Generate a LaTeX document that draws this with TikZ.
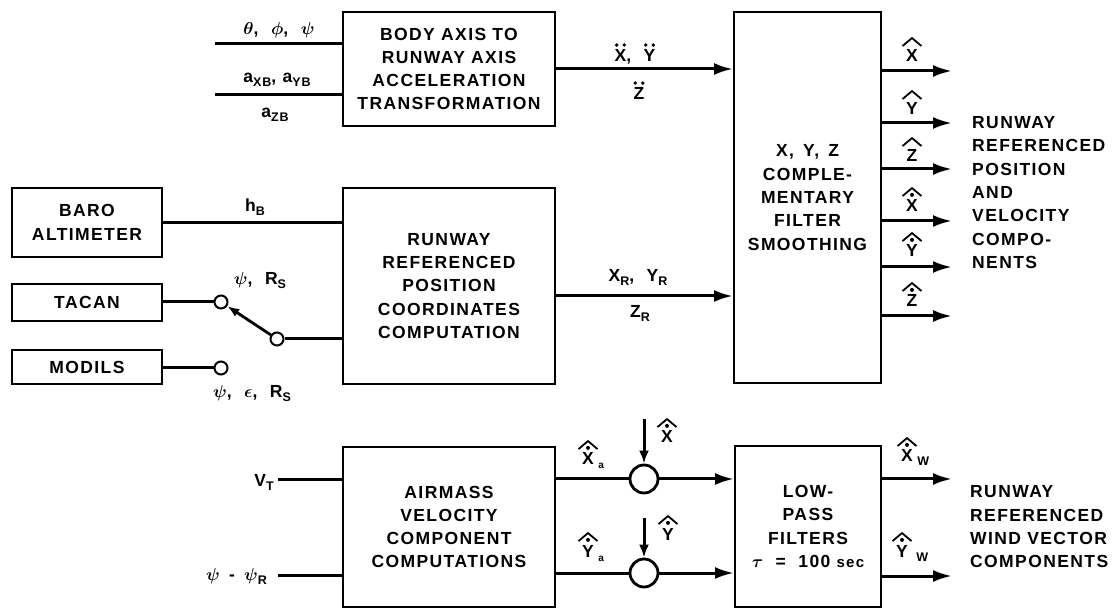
\documentclass[tikz,border=0pt]{standalone}
\usepackage{fontspec}
\setmainfont{Liberation Sans}[LetterSpace=8]
\usetikzlibrary{arrows.meta}
\newcommand{\fs}{\fontsize{17.5}{23.3}\selectfont}
\newcommand{\sub}[1]{\raisebox{-4pt}{\fontsize{12.5}{12.5}\selectfont #1}}
\newcommand{\ovr}[2]{\leavevmode\vbox{\offinterlineskip\halign{\hfil##\hfil\cr#1\cr\noalign{\kern3pt}#2\cr}}}
\newcommand{\dd}{\tikz[x=1pt,y=1pt]{\fill (-3.8,0) circle (1.9); \fill (3.8,0) circle (1.9);}}
\newcommand{\chv}{\tikz[x=1pt,y=1pt,line width=1.8pt]{\draw (-9.5,0)--(0,8)--(9.5,0);}}
\newcommand{\chvd}{\tikz[x=1pt,y=1pt,line width=1.8pt]{\draw (-9.5,0)--(0,8)--(9.5,0); \fill (0,1.2) circle (2);}}
\newcommand{\gk}[1]{{\fontsize{19}{19}\selectfont\boldmath$#1$}}
\tikzset{
  box/.style={draw, line width=2pt, align=center, font=\fs\bfseries, inner sep=0pt},
  lbl/.style={font=\fs\bfseries, inner sep=0pt, anchor=base},
  ln/.style={line width=3pt},
  arr/.style={ln, -{Latex[length=19pt,width=12pt]}},
  sarr/.style={ln, -{Latex[length=13pt,width=10pt]}},
  contact/.style={circle, draw, line width=2pt, minimum size=13pt, inner sep=0pt, fill=white},
  sumc/.style={circle, draw, line width=2.8pt, minimum size=28pt, inner sep=0pt},
}
\begin{document}
\begin{tikzpicture}[x=1pt,y=-1pt]
\path[fill=white] (0,0) rectangle (1117,609);
\useasboundingbox (0,0) rectangle (1117,609);

% boxes
\node[box, minimum width=212pt, minimum height=114pt] (body) at (449,69) {BODY AXIS TO\\RUNWAY AXIS\\ACCELERATION\\TRANSFORMATION};
\node[box, minimum width=147pt, minimum height=371pt] (filt) at (807.5,197.5) {X, \,Y, \,Z\\COMPLE-\\MENTARY\\FILTER\\SMOOTHING};
\node[box, minimum width=150pt, minimum height=69pt] (baro) at (87,222.5) {BARO\\ALTIMETER};
\node[box, minimum width=150pt, minimum height=37pt] (tacan) at (87,302.5) {TACAN};
\node[box, minimum width=150pt, minimum height=34pt] (modils) at (87,367) {MODILS};
\node[box, minimum width=212pt, minimum height=196pt] (rrpc) at (449,286) {RUNWAY\\REFERENCED\\POSITION\\COORDINATES\\COMPUTATION};
\node[box, minimum width=212pt, minimum height=160pt] (air) at (449,527) {AIRMASS\\VELOCITY\\COMPONENT\\COMPUTATIONS};
\node[box, minimum width=146pt, minimum height=161pt] (lpf) at (808,526.5) {LOW-\\PASS\\FILTERS\\\gk{\tau} \ = \ 100 {\fontsize{15}{15}\selectfont sec}};

% top inputs
\coordinate (i1) at (215,44);
\coordinate (i2) at (215,95);
\draw[ln] (i1) -- (i1 -| body.west);
\draw[ln] (i2) -- (i2 -| body.west);
\node[lbl] (l1) at (279,35) {\gk{\theta}, \ \gk{\phi}, \ \gk{\psi}};
\node[lbl] (l2) at (277,83) {a\sub{XB}, a\sub{YB}};
\node[lbl] (l3) at (275,118) {a\sub{ZB}};

\draw[arr] (body.east) -- (body.east -| filt.west);
\node[lbl] (lxy) at (635,62) {\ovr{\dd}{X}, \ \ovr{\dd}{Y}};
\node[lbl] (lz) at (639,100) {\ovr{\dd}{Z}};

% switch section
\node[contact] (tc) at (221,302) {};
\node[contact] (mc) at (221,368) {};
\node[contact] (sw) at (277,339) {};
\draw[ln] (baro.east) -- (baro.east -| rrpc.west);
\draw[ln] (tc -| tacan.east) -- (tc);
\draw[ln] (mc -| modils.east) -- (mc);
\draw[ln] (sw) -- (sw -| rrpc.west);
\draw[line width=2.8pt, -{Latex[length=12pt,width=9pt]}] (sw) -- (tc);
\node[lbl] (lh) at (255,212) {h\sub{B}};
\node[lbl] (lps) at (260,285) {\gk{\psi}, \ R\sub{S}};
\node[lbl] (lpes) at (252,398) {\gk{\psi}, \ \gk{\epsilon}, \ R\sub{S}};

\draw[arr] ([yshift=-10pt]rrpc.east) -- ([yshift=-10pt]rrpc.east -| filt.west);
\node[lbl] (lxr) at (638,282) {X\sub{R}, \ Y\sub{R}};
\node[lbl] (lzr) at (640,318) {Z\sub{R}};

% filter outputs
\foreach \y [count=\i] in {71,123,169,221,267,316} {
  \coordinate (o\i) at (952,\y);
  \draw[arr] (o\i -| filt.east) -- (o\i);
}
\node[lbl] (h1) at (912,62) {\ovr{\chv}{X}};
\node[lbl] (h2) at (912,115) {\ovr{\chv}{Y}};
\node[lbl] (h3) at (912,162) {\ovr{\chv}{Z}};
\node[lbl] (h4) at (912,212) {\ovr{\chvd}{X}};
\node[lbl] (h5) at (912,257) {\ovr{\chvd}{Y}};
\node[lbl] (h6) at (912,307) {\ovr{\chvd}{Z}};
\node[lbl, anchor=west, align=left] (t1) at (972,192.5) {RUNWAY\\REFERENCED\\POSITION\\AND\\VELOCITY\\COMPO-\\NENTS};

% bottom section
\coordinate (vt) at (278,480);
\coordinate (pr) at (278,575);
\draw[ln] (vt) -- (vt -| air.west);
\draw[ln] (pr) -- (pr -| air.west);
\node[lbl, anchor=base east] (lvt) at (274,486) {V\sub{T}};
\node[lbl, anchor=base east] (lpr) at (267,580) {\gk{\psi} \,-\, \gk{\psi}\sub{R}};

\node[sumc] (sx) at (644,479) {};
\node[sumc] (sy) at (644,573) {};
\draw[ln] (sx -| air.east) -- (sx);
\draw[ln] (sy -| air.east) -- (sy);
\draw[arr] (sx) -- (sx -| lpf.west);
\draw[arr] (sy) -- (sy -| lpf.west);
\coordinate (dx) at (644,419);
\coordinate (dy) at (644,518);
\draw[sarr] (dx) -- (sx);
\draw[sarr] (dy) -- (sy);
\node[lbl] (lxa) at (588,465) {\ovr{\chvd}{X}\rlap{\sub{\fontsize{10}{10}\selectfont a}}};
\node[lbl] (lxd) at (667,443) {\ovr{\chvd}{X}};
\node[lbl] (lya) at (588,557) {\ovr{\chvd}{Y}\rlap{\sub{\fontsize{10}{10}\selectfont a}}};
\node[lbl] (lyd) at (668,540) {\ovr{\chvd}{Y}};

\coordinate (w1) at (952,479);
\coordinate (w2) at (952,576);
\draw[arr] (w1 -| lpf.east) -- (w1);
\draw[arr] (w2 -| lpf.east) -- (w2);
\node[lbl] (lxw) at (907,462) {\ovr{\chvd}{X}\rlap{\sub{W}}};
\node[lbl] (lyw) at (902,557) {\ovr{\chvd}{Y}\rlap{\hspace{4pt}\sub{W}}};
\node[lbl, anchor=west, align=left] (t2) at (970,527) {RUNWAY\\REFERENCED\\WIND VECTOR\\COMPONENTS};
\end{tikzpicture}
\end{document}
